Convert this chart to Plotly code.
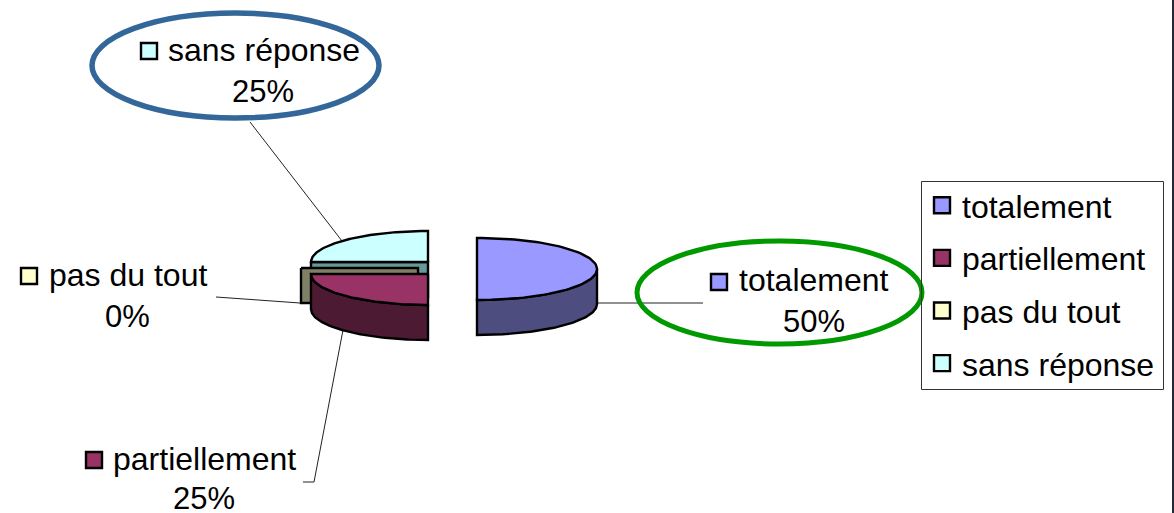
import numpy as np
import plotly.graph_objects as go

categories = ["totalement", "partiellement", "pas du tout", "sans réponse"]
values = [50, 25, 0, 25]
top_colors = ["#9999ff", "#993366", "#ffffcc", "#ccffff"]
side_colors = ["#4d4d80", "#4d1a33", "#808066", "#669999"]

# Slice geometry in page pixels (axes are mapped 1:1 on the page)
centers = {"totalement": (477, 269), "partiellement": (428, 274),
           "pas du tout": (418, 268), "sans réponse": (428, 262)}
radii = {"totalement": 120, "partiellement": 117, "pas du tout": 117, "sans réponse": 117}
RY = 31
DEPTH = 35

callouts = {
    "totalement": dict(mark=(719, 282), name=(814, 280), pct=(814, 321)),
    "partiellement": dict(mark=(94, 460), name=(204, 459), pct=(204, 498)),
    "pas du tout": dict(mark=(29, 276), name=(128, 275), pct=(127, 316)),
    "sans réponse": dict(mark=(149, 51), name=(264, 50), pct=(263, 91)),
}
leaders = [
    ([250, 342], [122, 241]),
    ([216, 300], [297, 303]),
    ([303, 314, 343], [482, 482, 330]),
    ([597, 703], [303, 303]),
]

total = sum(values)
spans = {}
a = 0.0
for c, v in zip(categories, values):
    spans[c] = (a, a + v / total * 2 * np.pi)
    a = spans[c][1]


def pt(c, t, dz=0):
    cx, cy = centers[c]
    return cx + radii[c] * np.sin(t), cy - RY * np.cos(t) + dz


def top_face(c):
    t0, t1 = spans[c]
    ts = np.linspace(t0, t1, 80)
    x, y = pt(c, ts)
    cx, cy = centers[c]
    return [cx, *x, cx], [cy, *y, cy]


def outer_side(c):
    t0, t1 = spans[c]
    lo, hi = max(t0, np.pi / 2), min(t1, 3 * np.pi / 2)
    if hi <= lo:
        return None
    ts = np.linspace(lo, hi, 80)
    x, y = pt(c, ts)
    xb, yb = pt(c, ts[::-1], DEPTH)
    return [*x, *xb, x[0]], [*y, *yb, y[0]]


def cut_side(c):
    # radial cut plane facing the viewer, from the 9 o'clock edge to the centre
    cx, cy = centers[c]
    ex, ey = pt(c, 3 * np.pi / 2)
    return [ex, cx, cx, ex, ex], [ey, cy, cy + DEPTH, ey + DEPTH, ey]


fig = go.Figure()
line = dict(color="#000000", width=2.4)


def poly(xy, color):
    fig.add_trace(go.Scatter(x=xy[0], y=xy[1], mode="lines", fill="toself", fillcolor=color,
                             line=line, showlegend=False, hoverinfo="skip"))


for lx, ly in leaders:
    fig.add_trace(go.Scatter(x=lx, y=ly, mode="lines", line=dict(color="#222222", width=1),
                             showlegend=False, hoverinfo="skip"))

# back to front
for name in ["sans réponse", "pas du tout", "partiellement", "totalement"]:
    i = categories.index(name)
    if name in ("sans réponse", "pas du tout"):
        poly(cut_side(name), side_colors[i])
    side = outer_side(name)
    if side:
        poly(side, side_colors[i])
    if values[i] > 0:
        poly(top_face(name), top_colors[i])

# Callout markers double as the legend entries
for c, col in zip(categories, top_colors):
    mx, my = callouts[c]["mark"]
    fig.add_trace(go.Scatter(x=[mx], y=[my], mode="markers", name=c, legendgroup=c,
                             marker=dict(symbol="square", size=16, color=col,
                                         line=dict(color="#000000", width=2.4))))

annotations = []
for c, v in zip(categories, values):
    for key, txt, fs in (("name", c, 32), ("pct", f"{v}%", 31)):
        x, y = callouts[c][key]
        annotations.append(dict(x=x, y=y, text=txt, showarrow=False, xanchor="center", yanchor="middle",
                                font=dict(family="Liberation Sans", size=fs, color="#000000")))

shapes = [
    dict(type="circle", x0=92, x1=379, y0=13, y1=118, line=dict(color="#336699", width=5.5)),
    dict(type="circle", x0=637, x1=922, y0=241, y1=344, line=dict(color="#009900", width=5)),
    dict(type="rect", x0=921.5, x1=1163.5, y0=181.5, y1=389.5, line=dict(color="#333333", width=1)),
    dict(type="line", x0=1173, x1=1173, y0=0, y1=513, line=dict(color="#1f2d3a", width=2)),
]

fig.update_layout(
    width=1174, height=513, margin=dict(l=0, r=0, t=0, b=0),
    paper_bgcolor="#ffffff", plot_bgcolor="#ffffff",
    xaxis=dict(range=[0, 1174], visible=False, fixedrange=True),
    yaxis=dict(range=[513, 0], visible=False, fixedrange=True),
    annotations=annotations, shapes=shapes,
    legend=dict(x=922 / 1174, y=1 - 178 / 513, xanchor="left", yanchor="top",
                bgcolor="rgba(0,0,0,0)", borderwidth=0,
                font=dict(family="Liberation Sans", size=32, color="#000000"),
                tracegroupgap=8, itemsizing="trace"),
)
fig.write_html("out.html", config={"displayModeBar": False},
               post_script="document.body.style.margin='0';document.documentElement.style.overflow='hidden';")
